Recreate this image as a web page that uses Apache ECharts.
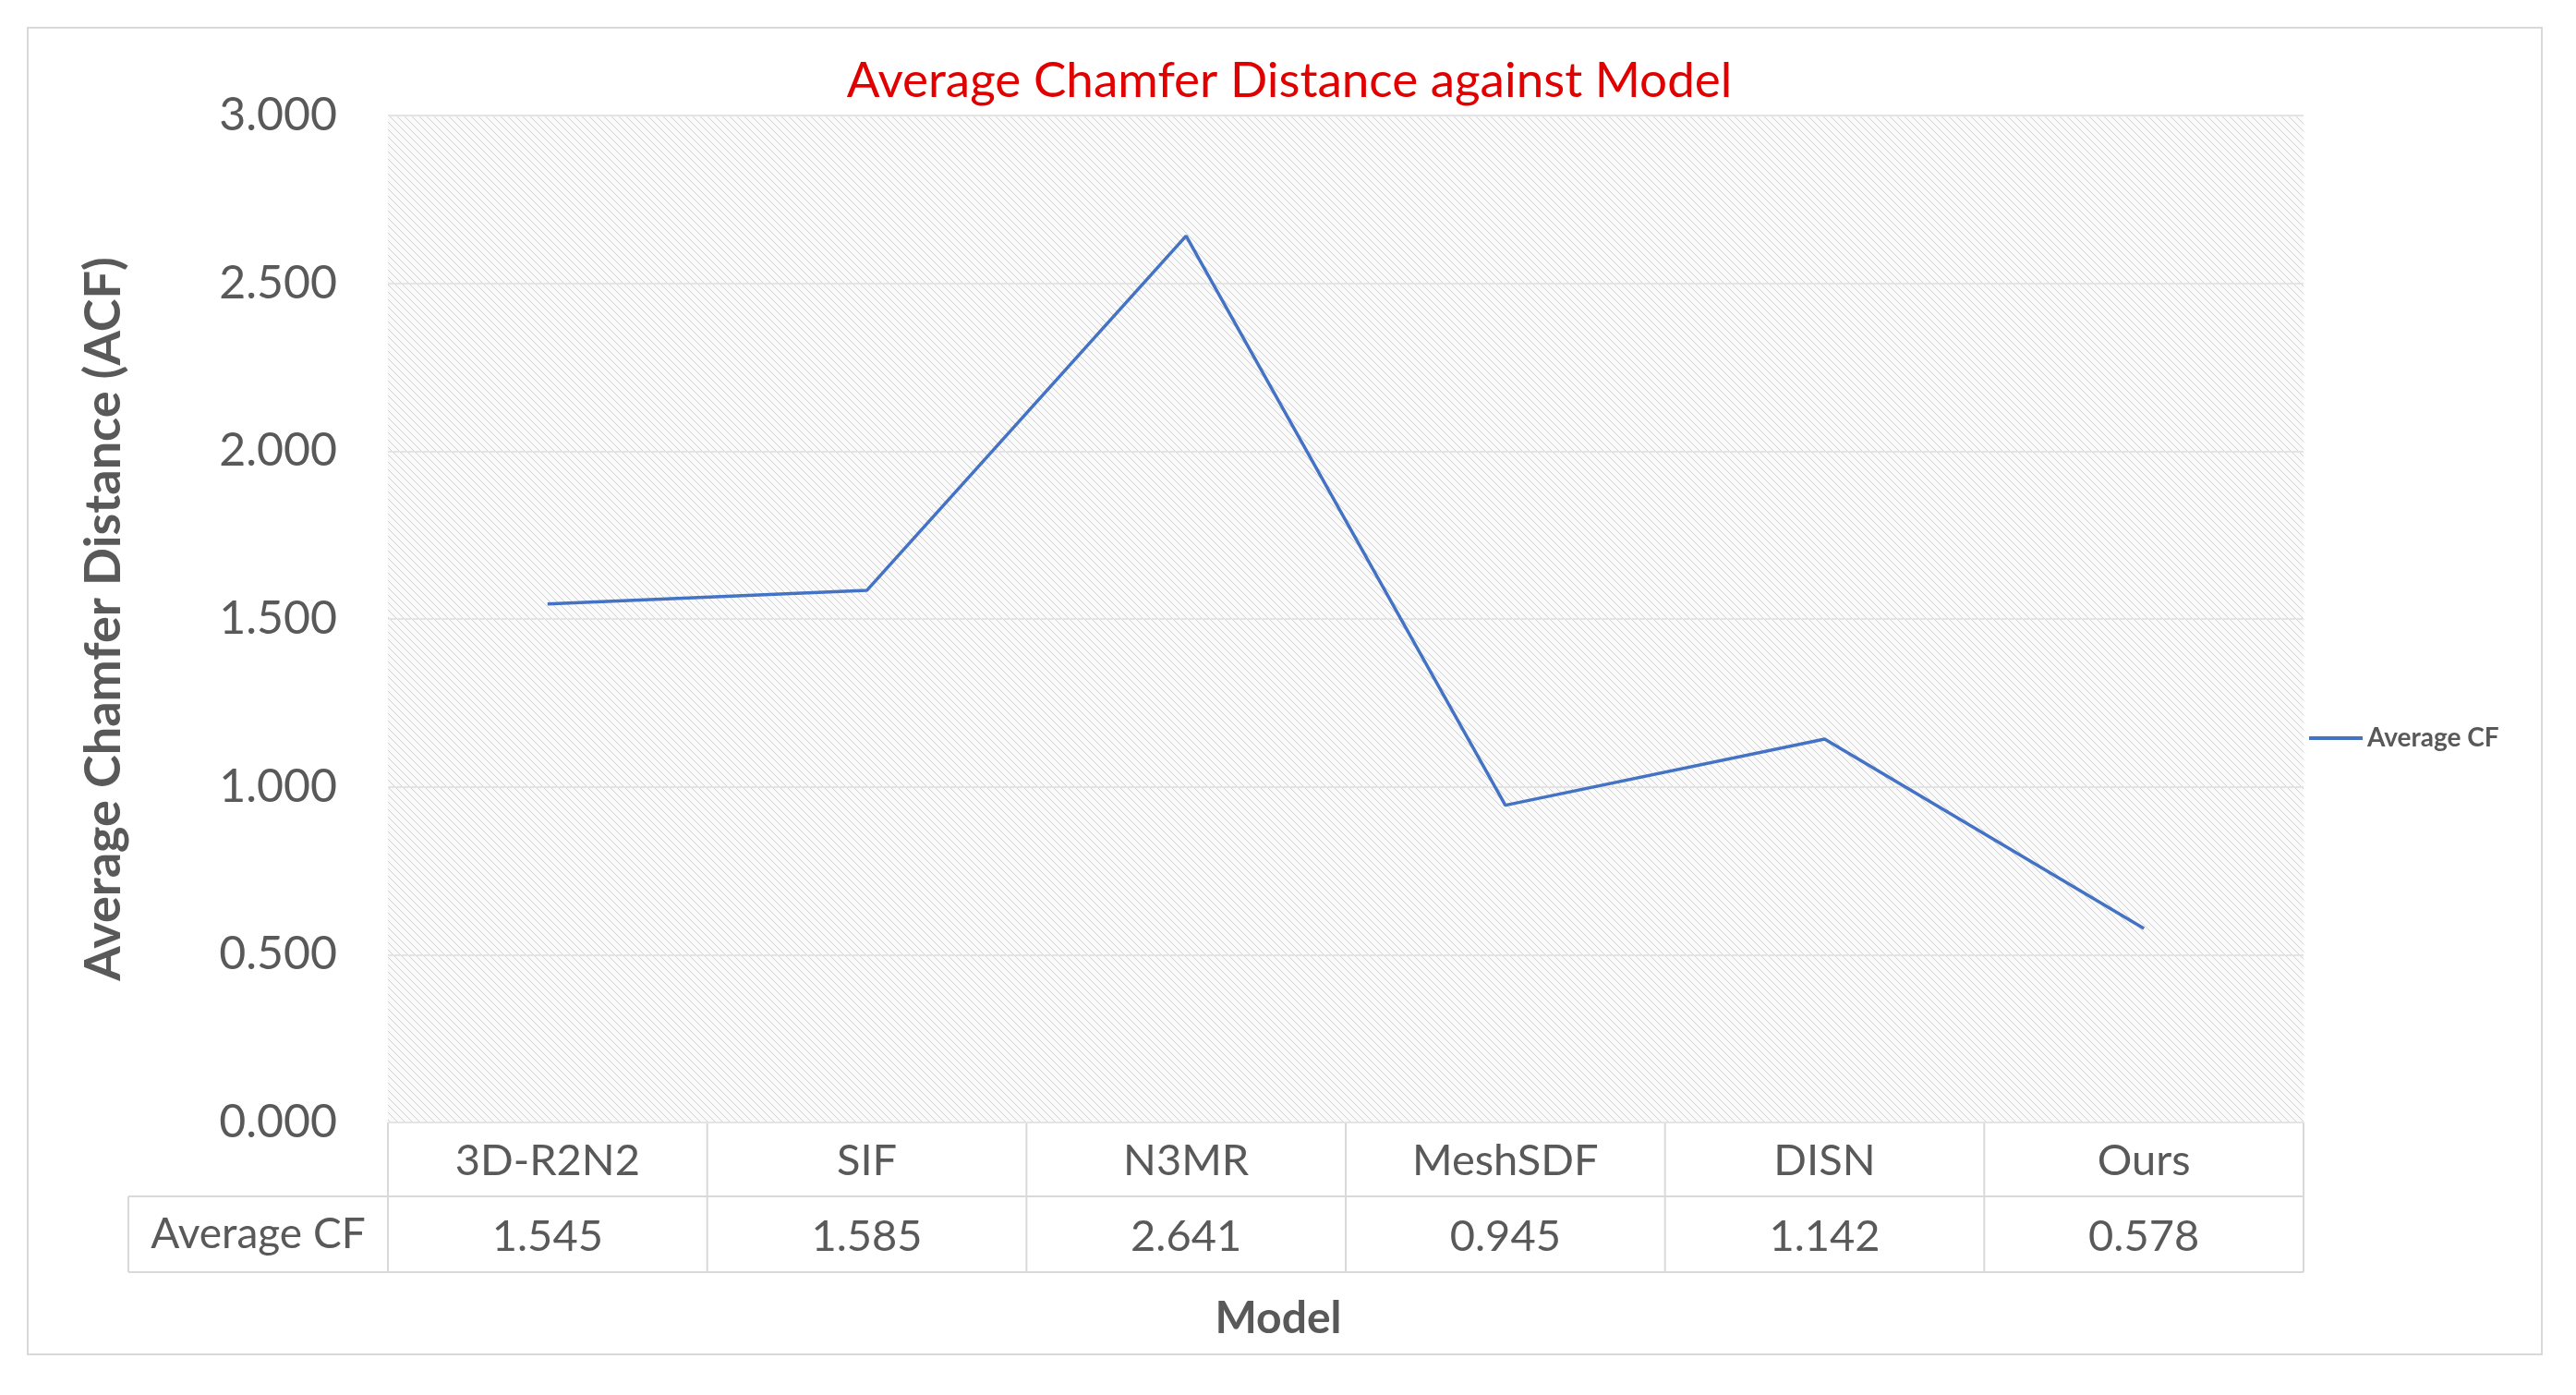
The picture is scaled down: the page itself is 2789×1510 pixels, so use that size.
<!DOCTYPE html>
<html><head><meta charset="utf-8">
<script src="https://cdn.jsdelivr.net/npm/echarts@6/dist/echarts.min.js"></script>
<style>html,body{margin:0;padding:0;background:#fff}#c{width:2789px;height:1510px}</style>
</head><body><div id="c"></div>
<script>
const categories = ['3D-R2N2','SIF','N3MR','MeshSDF','DISN','Ours'];
const averageCF = [1.545,1.585,2.641,0.945,1.142,0.578];
const yTicks = [0,0.5,1,1.5,2,2.5,3];

const F = 'Lato, "Open Sans", sans-serif';
const L = 420, R = 2494, T = 125, B = 1215;
const W = R - L, cw = W / categories.length;
const row1 = 1295, row2 = 1377, tableLeft = 139;

const pc = document.createElement('canvas');
pc.width = 8; pc.height = 8;
const g = pc.getContext('2d');
g.fillStyle = '#fafafa'; g.fillRect(0,0,8,8);
g.strokeStyle = '#cfcfcf'; g.lineWidth = 1;
g.beginPath(); g.moveTo(0,0); g.lineTo(8,8); g.moveTo(-4,4); g.lineTo(4,12); g.moveTo(4,-4); g.lineTo(12,4); g.stroke();

const lineStyle = {stroke:'#d9d9d9', lineWidth:2};
const graphics = [
  {type:'rect', shape:{x:30,y:30,width:2722,height:1436}, style:{fill:'none',stroke:'#d9d9d9',lineWidth:2}, z:-10},
  {type:'rect', shape:{x:L,y:T,width:W,height:B-T}, style:{fill:{image:pc,repeat:'repeat'}}, z:-5},
  {type:'line', shape:{x1:L,y1:B,x2:R,y2:B}, style:lineStyle},
  {type:'line', shape:{x1:tableLeft,y1:row1,x2:R,y2:row1}, style:lineStyle},
  {type:'line', shape:{x1:tableLeft,y1:row2,x2:R,y2:row2}, style:lineStyle},
  {type:'line', shape:{x1:tableLeft,y1:row1,x2:tableLeft,y2:row2}, style:lineStyle},
  {type:'text', x:(tableLeft+L)/2, y:(row1+row2)/2, style:{text:'Average CF', font:'46px '+F, fill:'#595959', align:'center', verticalAlign:'middle'}},
  {type:'text', x:1384, y:1428, style:{text:'Model', font:'bold 48px '+F, fill:'#595959', align:'center', verticalAlign:'middle'}}
];
for (let i = 0; i <= categories.length; i++) {
  graphics.push({type:'line', shape:{x1:L+i*cw,y1:B,x2:L+i*cw,y2:row2}, style:lineStyle});
}

const chart = echarts.init(document.getElementById('c'));
chart.setOption({
  backgroundColor:'#fff',
  animation:false,
  title:{text:'Average Chamfer Distance against Model', left:1391, top:56, textAlign:'center',
    textStyle:{color:'#e00000', fontFamily:F, fontSize:53, fontWeight:'normal'}},
  grid:{left:L, right:2789-R, top:T, bottom:1510-B},
  legend:{data:['Average CF'], left:2495, top:780, itemWidth:58, itemHeight:4, itemGap:5,
    textStyle:{fontFamily:F, fontSize:28, fontWeight:'bold', color:'#595959'},
    icon:'rect'},
  xAxis:[
    {type:'category', data:categories, position:'bottom', boundaryGap:true,
     axisLine:{show:false}, axisTick:{show:false},
     axisLabel:{fontFamily:F, fontSize:47, color:'#595959', margin:18}},
    {type:'category', data:categories, position:'bottom', offset:82, boundaryGap:true,
     axisLine:{show:false}, axisTick:{show:false},
     axisLabel:{fontFamily:F, fontSize:47, color:'#595959', margin:18,
       formatter:(v,i)=>averageCF[i].toFixed(3)}}
  ],
  yAxis:{type:'value', min:0, max:3, interval:0.5,
    axisLine:{show:false}, axisTick:{show:false},
    splitLine:{lineStyle:{color:'#e4e4e4', width:2}},
    axisLabel:{fontFamily:F, fontSize:50, color:'#595959', margin:55, formatter:v=>v.toFixed(3)},
    name:'Average Chamfer Distance (ACF)', nameLocation:'middle', nameGap:280,
    nameTextStyle:{fontFamily:F, fontSize:54, fontWeight:'bold', color:'#595959'}},
  series:[{name:'Average CF', type:'line', data:averageCF, symbol:'none',
    lineStyle:{color:'#4472c4', width:3.5}, itemStyle:{color:'#4472c4'}}],
  graphic:graphics
});
</script></body></html>
